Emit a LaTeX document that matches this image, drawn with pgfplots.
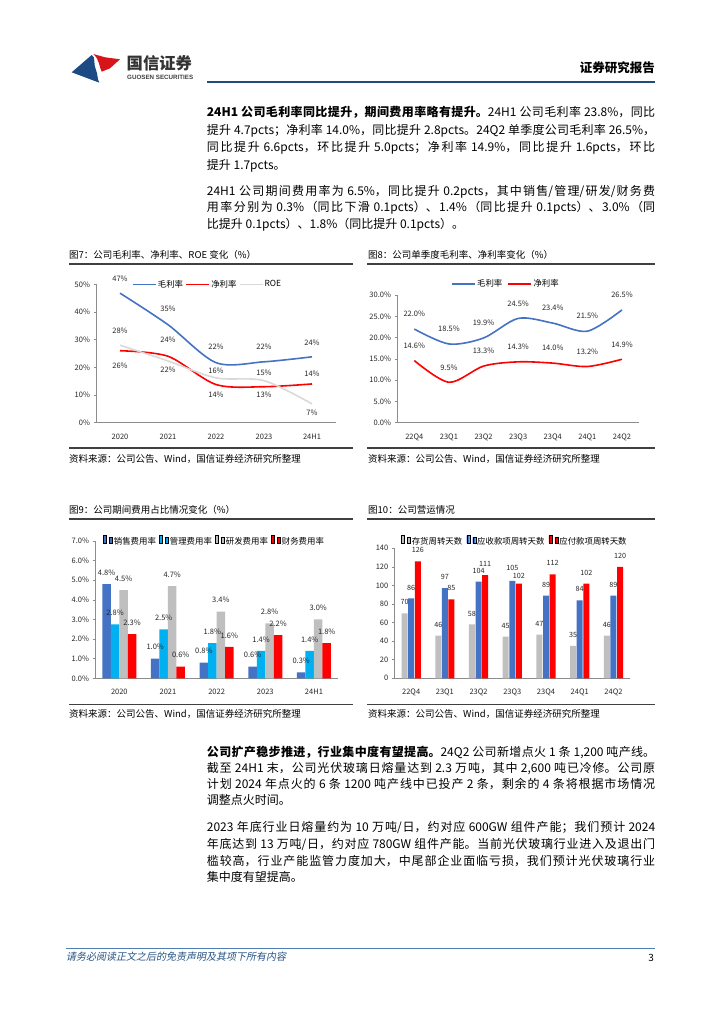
\documentclass[border=0pt]{standalone}
\usepackage{fontspec}
\setmainfont{Noto Sans CJK SC}
\newfontfamily\slfont[FakeSlant=0.2]{Noto Sans CJK SC}
\newfontfamily\latinb{Liberation Sans}
\usepackage{graphicx}
\usepackage{pgfplots}
\usepackage{pgfplotstable}
\pgfplotsset{compat=1.18}
\XeTeXlinebreaklocale "zh"
\XeTeXlinebreakskip=0pt plus 2pt minus 0.2pt

\definecolor{cblue}{HTML}{4472C4}
\definecolor{cred}{HTML}{FF0000}
\definecolor{lgray}{HTML}{D9D9D9}
\definecolor{bgray}{HTML}{BFBFBF}
\definecolor{ccyan}{HTML}{00B0F0}
\definecolor{hblue}{HTML}{1F4E79}
\definecolor{fblue}{HTML}{4F7FB5}
\definecolor{axgray}{HTML}{8C8C8C}
\definecolor{rulegray}{HTML}{404040}
\definecolor{logored}{HTML}{D7141A}
\definecolor{logoblue}{HTML}{1C4A85}

\pgfplotsset{
  rep/.style={
    scale only axis, clip=false, anchor=south west,
    axis lines=left, axis line style={-, draw=axgray, line width=0.7pt},
    tick align=outside, major tick length=2.5pt,
    ytick style={draw=axgray, line width=0.6pt},
    xtick style={draw=none},
    tick label style={font=\fontsize{7.5}{9}\selectfont, text=black!85},
    xticklabel style={yshift=-5pt},
    /pgf/number format/assume math mode=true,
    legend style={draw=none, fill=none, inner sep=0pt, anchor=west,
      font=\fontsize{8.4}{10}\selectfont, nodes={inner sep=1.3pt}},
    legend columns=-1,
  },
  lineleg/.style={legend image code/.code={\draw[##1] (0pt,0pt) -- (23pt,0pt);}},
  barleg/.style={legend image code/.code={\fill[##1,draw=none] (0pt,-2.5pt) rectangle (5pt,2.5pt);}},
}

% 图7 数据
\pgfplotstableread{
x y m dy
0 46.8 47 14
1 35.4 35 16
2 21.7 22 15.6
3 22.0 22 14.8
4 23.8 24 13.8
}\grossA
\pgfplotstableread{
x y m dy
0 26.0 26 -15.3
1 24.0 24 16.7
2 13.8 14 -10.5
3 13.0 13 -8.3
4 14.0 14 9.9
}\netA
\pgfplotstableread{
x y m dy
0 28.0 28 14.5
1 22.3 22 -9
2 16.2 16 7.4
3 15.2 15 8
4 6.8 7 -8.4
}\roeA

% 图8 数据
\pgfplotstableread{
x gross net
0 22.0 14.6
1 18.5 9.5
2 19.9 13.3
3 24.5 14.3
4 23.4 14.0
5 21.5 13.2
6 26.5 14.9
}\quarter

% 图9 数据
\pgfplotstableread{
x sale admin rd fin
0 4.8 2.75 4.5 2.25
1 1.0 2.5 4.7 0.6
2 0.8 1.8 3.4 1.6
3 0.6 1.4 2.8 2.2
4 0.3 1.4 3.0 1.8
}\opex

% 图10 数据
\pgfplotstableread{
x inv rec pay dinv drec dpay
0 70 86 126 11 11 11
1 46 97 85 11 11 11
2 58 104 111 11 11 11
3 45 105 102 11 12.5 7.5
4 47 89 112 11 11 11
5 35 84 102 11 11 11
6 46 89 120 11 11 11
}\turnover

\begin{document}
\begin{tikzpicture}
\fill[white] (0pt,0pt) rectangle (724pt,-1024pt);
\useasboundingbox (0pt,0pt) rectangle (724pt,-1024pt);

% 页眉
\fill[logoblue] (71.7pt,-72.3pt) -- (91.7pt,-55pt) .. controls (96pt,-57pt) and (93pt,-64pt) .. (96pt,-70pt)
  .. controls (98pt,-74pt) and (97pt,-79pt) .. (99.3pt,-82.7pt) -- cycle;
\fill[logored] (93.3pt,-54pt) -- (105pt,-57.3pt) -- (120pt,-59.3pt) -- (110pt,-68.3pt) -- (101.7pt,-71.7pt)
  .. controls (99pt,-67pt) and (100pt,-60pt) .. cycle;
\node[anchor=west, inner sep=0pt, font=\fontsize{16.3}{17}\selectfont\bfseries, text=black!80] at (126.5pt,-63pt) {国信证券};
\node[anchor=west, inner sep=0pt, text=black!75] at (127pt,-77.5pt) {\resizebox{66pt}{!}{\latinb\bfseries GUOSEN SECURITIES}};
\node[anchor=east, inner sep=0pt, font=\fontsize{12.5}{13}\selectfont\bfseries] at (655pt,-68pt) {证券研究报告};
\draw[hblue, line width=2.3pt] (206.7pt,-81.7pt) -- (655pt,-81.7pt);

% 正文
\node[anchor=base west, inner sep=0pt, text width=448.3pt, align=justify, font=\fontsize{12}{17.8}\selectfont] at (206.7pt,-116.3pt)
{\textbf{24H1 公司毛利率同比提升，期间费用率略有提升。}24H1 公司毛利率 23.8\%，同比\linebreak
提升 4.7pcts；净利率 14.0\%，同比提升 2.8pcts。24Q2 单季度公司毛利率 26.5\%，\linebreak
同比提升 6.6pcts，环比提升 5.0pcts；净利率 14.9\%，同比提升 1.6pcts，环比\linebreak
提升 1.7pcts。};
\node[anchor=base west, inner sep=0pt, text width=448.3pt, align=justify, font=\fontsize{12}{16.7}\selectfont] at (206.7pt,-195.3pt)
{24H1 公司期间费用率为 6.5\%，同比提升 0.2pcts，其中销售/管理/研发/财务费\linebreak
用率分别为 0.3\%（同比下滑 0.1pcts）、1.4\%（同比提升 0.1pcts）、3.0\%（同\linebreak
比提升 0.1pcts）、1.8\%（同比提升 0.1pcts）。};

\node[anchor=base west, inner sep=0pt, text width=448.3pt, align=justify, font=\fontsize{12}{16.1}\selectfont] at (206.7pt,-756.3pt)
{\textbf{公司扩产稳步推进，行业集中度有望提高。}24Q2 公司新增点火 1 条 1,200 吨产线。\linebreak
截至 24H1 末，公司光伏玻璃日熔量达到 2.3 万吨，其中 2,600 吨已冷修。公司原\linebreak
计划 2024 年点火的 6 条 1200 吨产线中已投产 2 条，剩余的 4 条将根据市场情况\linebreak
调整点火时间。};
\node[anchor=base west, inner sep=0pt, text width=448.3pt, align=justify, font=\fontsize{12}{16.7}\selectfont] at (206.7pt,-831.6pt)
{2023 年底行业日熔量约为 10 万吨/日，约对应 600GW 组件产能；我们预计 2024\linebreak
年底达到 13 万吨/日，约对应 780GW 组件产能。当前光伏玻璃行业进入及退出门\linebreak
槛较高，行业产能监管力度加大，中尾部企业面临亏损，我们预计光伏玻璃行业\linebreak
集中度有望提高。};

% 图表标题与来源
\begin{scope}[every node/.style={anchor=west, inner sep=0pt, font=\fontsize{9.5}{11}\selectfont}]
\node at (69pt,-255pt) {图7：公司毛利率、净利率、ROE 变化（\%）};
\node at (368pt,-255pt) {图8：公司单季度毛利率、净利率变化（\%）};
\node at (69pt,-510pt) {图9：公司期间费用占比情况变化（\%）};
\node at (368pt,-510pt) {图10：公司营运情况};
\node at (69pt,-459pt) {资料来源：公司公告、Wind，国信证券经济研究所整理};
\node at (368pt,-459pt) {资料来源：公司公告、Wind，国信证券经济研究所整理};
\node at (69pt,-714pt) {资料来源：公司公告、Wind，国信证券经济研究所整理};
\node at (368pt,-714pt) {资料来源：公司公告、Wind，国信证券经济研究所整理};
\end{scope}
\begin{scope}[rulegray, line width=1.3pt]
\draw (69pt,-264pt) -- (352.7pt,-264pt);
\draw (367pt,-264pt) -- (655pt,-264pt);
\draw (69pt,-448pt) -- (352.7pt,-448pt);
\draw (367pt,-448pt) -- (655pt,-448pt);
\draw (69pt,-519pt) -- (352.7pt,-519pt);
\draw (367pt,-519pt) -- (655pt,-519pt);
\draw (69pt,-704.3pt) -- (352.7pt,-704.3pt);
\draw (367pt,-704.3pt) -- (655pt,-704.3pt);
\end{scope}

% 图7
\begin{axis}[rep, lineleg, at={(96pt,-422.7pt)}, width=240pt, height=138.4pt,
  xmin=-0.5, xmax=4.5, ymin=0, ymax=50,
  xtick={0,...,4}, xticklabels={2020,2021,2022,2023,24H1},
  ytick={0,10,...,50}, yticklabels={0\%,10\%,20\%,30\%,40\%,50\%},
  legend style={at={(axis description cs:0.149,1)}, /tikz/every even column/.append style={column sep=1pt}},
  every axis plot/.append style={smooth, no marks, line width=1.6pt},
  point meta=explicit,
  nodes near coords={\pgfmathprintnumber[fixed,precision=0]{\pgfplotspointmeta}\%},
  visualization depends on={\thisrow{dy}\as\dy},
  every node near coord/.append style={anchor=center, yshift=\dy pt, text=black!85, font=\fontsize{7.5}{9}\selectfont},
]
\addplot[cblue] table[x=x, y=y, meta=m]{\grossA};
\addplot[cred] table[x=x, y=y, meta=m]{\netA};
\addplot[lgray] table[x=x, y=y, meta=m]{\roeA};
\legend{毛利率,净利率,ROE}
\end{axis}

% 图8
\begin{axis}[rep, lineleg, at={(397pt,-422.7pt)}, width=242.3pt, height=127.7pt,
  xmin=-0.5, xmax=6.5, ymin=0, ymax=30,
  xtick={0,...,6}, xticklabels={22Q4,23Q1,23Q2,23Q3,23Q4,24Q1,24Q2},
  ytick={0,5,...,30}, yticklabels={0.0\%,5.0\%,10.0\%,15.0\%,20.0\%,25.0\%,30.0\%},
  legend style={at={(axis description cs:0.223,1.086)}, /tikz/every even column/.append style={column sep=4pt}},
  every axis plot/.append style={smooth, no marks, line width=1.6pt},
  nodes near coords={\pgfmathprintnumber[fixed,fixed zerofill,precision=1]{\pgfplotspointmeta}\%},
  every node near coord/.append style={anchor=center, yshift=15pt, text=black!85, font=\fontsize{7.5}{9}\selectfont},
]
\addplot[cblue] table[x=x, y=gross]{\quarter};
\addplot[cred] table[x=x, y=net]{\quarter};
\legend{毛利率,净利率}
\end{axis}

% 图9
\begin{axis}[rep, barleg, at={(95pt,-678.3pt)}, width=243.3pt, height=137.3pt,
  ybar=0pt, bar width=8.5pt,
  xmin=-0.5, xmax=4.5, ymin=0, ymax=7,
  xtick={0,...,4}, xticklabels={2020,2021,2022,2023,24H1},
  ytick={0,1,...,7}, yticklabels={0.0\%,1.0\%,2.0\%,3.0\%,4.0\%,5.0\%,6.0\%,7.0\%},
  legend style={at={(axis description cs:0.033,1)}, /tikz/every even column/.append style={column sep=2pt}},
  nodes near coords={\pgfmathprintnumber[fixed,fixed zerofill,precision=1]{\pgfplotspointmeta}\%},
  every node near coord/.append style={anchor=center, yshift=11.5pt, text=black!85, font=\fontsize{7.5}{9}\selectfont},
]
\addplot[fill=cblue, draw=none] table[x=x, y=sale]{\opex};
\addplot[fill=ccyan, draw=none] table[x=x, y=admin]{\opex};
\addplot[fill=bgray, draw=none] table[x=x, y=rd]{\opex};
\addplot[fill=cred, draw=none] table[x=x, y=fin]{\opex};
\legend{销售费用率,管理费用率,研发费用率,财务费用率}
\end{axis}

% 图10
\begin{axis}[rep, barleg, at={(394.3pt,-678.3pt)}, width=236pt, height=130pt,
  ybar=0.6pt, bar width=6pt,
  xmin=-0.5, xmax=6.5, ymin=0, ymax=140,
  xtick={0,...,6}, xticklabels={22Q4,23Q1,23Q2,23Q3,23Q4,24Q1,24Q2},
  ytick={0,20,...,140},
  legend style={at={(axis description cs:0.028,1.056)}, /tikz/every even column/.append style={column sep=3pt}},
  nodes near coords={\pgfmathprintnumber[fixed,precision=0]{\pgfplotspointmeta}},
  every node near coord/.append style={anchor=center, yshift=\dl pt, text=black!85, font=\fontsize{7.2}{9}\selectfont},
]
\addplot[fill=bgray, draw=none, visualization depends on={\thisrow{dinv}\as\dl}] table[x=x, y=inv]{\turnover};
\addplot[fill=cblue, draw=none, visualization depends on={\thisrow{drec}\as\dl}] table[x=x, y=rec]{\turnover};
\addplot[fill=cred, draw=none, visualization depends on={\thisrow{dpay}\as\dl}] table[x=x, y=pay]{\turnover};
\legend{存货周转天数,应收款项周转天数,应付款项周转天数}
\end{axis}

% 页脚
\draw[fblue, line width=0.9pt] (66pt,-948pt) -- (655pt,-948pt);
\node[anchor=west, inner sep=0pt, font=\fontsize{10}{11}\slfont, text=hblue!85!cblue] at (66pt,-957pt) {请务必阅读正文之后的免责声明及其项下所有内容};
\node[anchor=east, inner sep=0pt, font=\fontsize{10}{11}\selectfont] at (654pt,-958pt) {3};
\end{tikzpicture}
\end{document}
